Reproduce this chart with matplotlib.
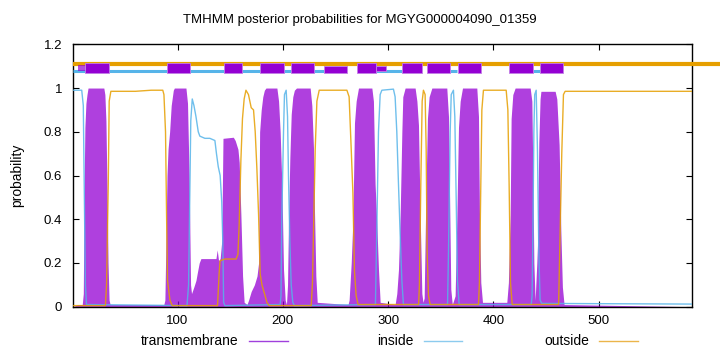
import matplotlib
matplotlib.use("Agg")
import matplotlib.pyplot as plt
from matplotlib.patches import Rectangle
from matplotlib.lines import Line2D

plt.rcParams['font.family'] = ['Liberation Sans', 'DejaVu Sans']

title = "TMHMM posterior probabilities for MGYG000004090_01359"
seq_len = 589

# transmembrane posterior probability (position, value)
tm_pos = [1, 5, 9.5, 10.5, 11.3, 12, 13, 14, 15, 30, 31, 32, 33, 34, 35, 36,
          60, 80, 87, 88, 89, 90, 91, 92.5, 94, 96, 97, 108, 109.5, 111, 112.4,
          113.3, 115.5, 117.5, 119, 120.6, 122.2, 136.5, 137.7, 139, 140.5, 142, 143.2,
          153, 154.8, 157.4, 158.6, 160.2, 161.8, 163.3, 166, 167.5, 170, 173, 175.5,
          177, 178, 179.5, 181, 182.5, 184, 194.4, 196, 197.5, 199.1, 200.7, 202.3,
          203.5, 204.5, 205.4, 206.7, 208, 209.5, 211, 213, 226, 227.6, 229.2, 230.1,
          231.4, 232.7, 262, 263, 265, 266.6, 268.1, 269.7, 271.9, 284.6, 286.1, 287.7,
          289.3, 290.9, 292.5, 306.7, 308.3, 309.9, 311.5, 313.1, 314, 316.2, 325.7,
          327.4, 328.9, 330.5, 332.1, 333.2, 334.3, 335.9, 337.4, 339, 341.6, 355.8,
          357.4, 358.3, 359.6, 361, 363.7, 365.3, 366.9, 368.5, 370.7, 384.3, 385.9,
          386.8, 388.1, 389.7, 412.8, 414.3, 416, 416.9, 418.5, 420.7, 435, 436.6,
          437.5, 438.5, 439.7, 441.3, 441.9, 443.2, 444.4, 445.2, 458.7, 460.3, 462.5,
          464.1, 465.6, 467.2, 589]
tm_val = [0.0, 0.01, 0.01, 0.06, 0.55, 0.82, 0.93, 0.97, 1.0, 1.0, 0.97, 0.85, 0.55, 0.2, 0.03, 0.01,
          0.01, 0.01, 0.01, 0.03, 0.3, 0.6, 0.72, 0.8, 0.92, 0.99, 1.0, 1.0, 0.93, 0.6, 0.1,
          0.06, 0.09, 0.12, 0.16, 0.2, 0.22, 0.22, 0.26, 0.21, 0.22, 0.3, 0.77,
          0.775, 0.76, 0.72, 0.66, 0.42, 0.14, 0.02, 0.01, 0.03, 0.07, 0.1, 0.14,
          0.2, 0.8, 0.9, 0.96, 0.99, 1.0, 1.0, 0.94, 0.8, 0.56, 0.17, 0.03,
          0.01, 0.1, 0.38, 0.68, 0.88, 0.96, 0.99, 1.0, 1.0, 0.92, 0.72, 0.44,
          0.14, 0.02, 0.01, 0.03, 0.2, 0.4, 0.84, 0.94, 1.0, 1.0, 0.94, 0.56,
          0.38, 0.17, 0.02, 0.01, 0.06, 0.17, 0.42, 0.8, 0.96, 1.0, 1.0,
          0.94, 0.83, 0.42, 0.06, 0.02, 0.04, 0.5, 0.86, 0.96, 1.0, 1.0,
          0.87, 0.56, 0.08, 0.01, 0.05, 0.4, 0.82, 0.94, 1.0, 1.0, 0.87,
          0.44, 0.11, 0.02, 0.02, 0.11, 0.42, 0.86, 0.97, 1.0, 1.0, 0.94,
          0.62, 0.2, 0.03, 0.2, 0.28, 0.75, 0.95, 0.985, 0.985, 0.95, 0.74,
          0.35, 0.09, 0.01, 0.0]

# inside posterior probability
in_pos = [1, 9, 10.5, 11.5, 12.5, 13.5, 109, 110.5, 111.5, 112.6, 114, 115.6, 117.5,
          119.7, 121.2, 126, 130.7, 135.5, 137, 138.7, 140.5, 142, 143, 143.8, 145,
          197.5, 198.3, 199.1, 200.7, 201.6, 203.2, 204.5, 205.4, 206.7, 208, 209.5, 211,
          288, 289.3, 290.9, 292.5, 294.1, 305.1, 306.7, 308.3, 309.9, 311.5, 313.1, 314.6,
          356.5, 357.4, 359, 360, 362.1, 363.4, 364.7, 365.9, 367.5,
          436, 436.8, 437.6, 438.5, 439.3, 440.7, 441.9, 443.2, 444.4, 446, 589]
in_val = [0.99, 0.99, 0.92, 0.5, 0.1, 0.01, 0.005, 0.1, 0.45, 0.85, 0.95, 0.92, 0.87,
          0.8, 0.78, 0.77, 0.77, 0.76, 0.7, 0.64, 0.6, 0.48, 0.3, 0.02, 0.005,
          0.01, 0.05, 0.42, 0.8, 0.97, 0.99, 0.87, 0.6, 0.3, 0.1, 0.02, 0.005,
          0.01, 0.35, 0.8, 0.97, 0.99, 0.995, 0.96, 0.8, 0.56, 0.33, 0.12, 0.01,
          0.01, 0.25, 0.8, 0.97, 0.99, 0.87, 0.5, 0.12, 0.01,
          0.01, 0.05, 0.35, 0.8, 0.97, 0.99, 0.72, 0.25, 0.03, 0.015, 0.012]

# outside posterior probability
out_pos = [1, 31.5, 32.6, 34.2, 35.1, 36.7, 60, 75, 86, 87.1, 88.6, 89.6, 90.5, 92.8, 95,
           138, 139.5, 140.4, 145, 155.7, 157.4, 158.6, 160.2, 161.7, 163.3, 165, 167.4,
           170, 172.2, 173.8, 175.4, 177, 178.5, 180.2, 182.6, 184.9, 187,
           227, 228.2, 229.5, 230.8, 232.4, 234.6, 260.9, 263, 265, 266.6, 268.1, 269.7, 271.5,
           329, 329.8, 331.1, 332.4, 333.6, 335.2, 336.2, 337.1, 338.4, 340,
           385.9, 386.8, 388.1, 389.1, 390.6, 412.2, 413.8, 415, 416.3, 417.9,
           462, 463.4, 465, 466.6, 468.2, 589]
out_val = [0.005, 0.005, 0.1, 0.56, 0.94, 0.985, 0.985, 0.99, 0.99, 0.97, 0.8, 0.42, 0.12, 0.03, 0.005,
           0.005, 0.15, 0.21, 0.218, 0.218, 0.24, 0.38, 0.67, 0.86, 0.95, 0.99, 0.97,
           0.91, 0.9, 0.8, 0.63, 0.42, 0.15, 0.1, 0.06, 0.02, 0.005,
           0.005, 0.11, 0.42, 0.72, 0.94, 0.99, 0.99, 0.96, 0.72, 0.52, 0.16, 0.05, 0.01,
           0.01, 0.1, 0.56, 0.94, 0.99, 0.97, 0.72, 0.25, 0.05, 0.01,
           0.01, 0.11, 0.56, 0.9, 0.99, 0.99, 0.9, 0.56, 0.11, 0.01,
           0.01, 0.33, 0.7, 0.97, 0.985, 0.985]

# predicted topology bars at the top
tm_box_start = [12.3, 90, 143.7, 178.5, 208, 238.7, 270.4, 288.7, 313, 336.8, 366, 415.3, 444.4]
tm_box_end = [34.5, 112, 161.2, 200.7, 230, 260.9, 288.7, 298.2, 332, 359, 388, 438, 466.6]
tm_box_low = [1.067, 1.067, 1.067, 1.067, 1.067, 1.067, 1.067, 1.078, 1.067, 1.067, 1.067, 1.067, 1.067]
tm_box_high = [1.116, 1.116, 1.116, 1.116, 1.116, 1.101, 1.116, 1.101, 1.116, 1.116, 1.116, 1.116, 1.116]
inside_bar_start = [1, 288.7, 359, 438]
inside_bar_end = [238.7, 313, 365.3, 444.4]
outside_bar_start = 1
outside_bar_end = 616

PURPLE = '#9400d3'
BLUE = '#56b4e9'
ORANGE = '#e69f00'

fig = plt.figure(figsize=(7.2, 3.52), dpi=100)
ax = fig.add_axes([73.3 / 720, 1 - 306.7 / 352, (692.3 - 73.3) / 720, (306.7 - 44.3) / 352])

ax.fill_between(tm_pos, 0, tm_val, color=PURPLE, alpha=0.75, linewidth=0, zorder=2)
ax.plot(in_pos, in_val, color=BLUE, lw=1.0, alpha=0.85, zorder=3)
ax.plot(out_pos, out_val, color=ORANGE, lw=1.0, alpha=0.85, zorder=3)

# top bars
ax.plot([outside_bar_start, outside_bar_end], [1.11, 1.11], color=ORANGE, lw=3.0,
        solid_capstyle='butt', clip_on=False, zorder=4)
for s, e in zip(inside_bar_start, inside_bar_end):
    ax.plot([s, e], [1.076, 1.076], color=BLUE, lw=2.2, solid_capstyle='butt', zorder=4)
ax.add_patch(Rectangle((5, 1.078), 7.3, 0.027, facecolor=PURPLE, alpha=0.7, lw=0, zorder=5))
for s, e, lo, hi in zip(tm_box_start, tm_box_end, tm_box_low, tm_box_high):
    ax.add_patch(Rectangle((s, lo), e - s, hi - lo, facecolor=PURPLE,
                           edgecolor='#c27ee6', lw=0.6, zorder=5))

ax.set_xlim(1, seq_len)
ax.set_ylim(0, 1.2)
ax.set_xticks([100, 200, 300, 400, 500])
ax.set_xticklabels(['100', '200', '300', '400', '500'])
ax.set_yticks([0, 0.2, 0.4, 0.6, 0.8, 1.0, 1.2])
ax.set_yticklabels(['0', '0.2', '0.4', '0.6', '0.8', '1', '1.2'])
ax.tick_params(direction='in', top=True, right=True, length=4, width=0.8,
               labelsize=9.5, colors='black')
ax.tick_params(axis='y', pad=8)
ax.tick_params(axis='x', pad=6)
for sp in ax.spines.values():
    sp.set_linewidth(1.0)

fig.text(0.5, 1 - 20 / 352, title, ha='center', va='center', fontsize=9.5)
fig.text(17 / 720, 1 - 175 / 352, 'probability', rotation=90, ha='center', va='center', fontsize=10)

# legend
leg_y = 1 - 341 / 352
legend_items = [('transmembrane', 238, 249, 288, '#a040dc'),
                ('inside', 414, 424, 462, '#8ccbee'),
                ('outside', 589, 599, 638, '#ebb54a')]
for label, tx, x0, x1, c in legend_items:
    fig.text(tx / 720, leg_y, label, ha='right', va='center', fontsize=10)
    fig.add_artist(Line2D([x0 / 720, x1 / 720], [leg_y, leg_y], color=c, lw=1.0,
                          transform=fig.transFigure))

fig.savefig('out.png', dpi=100)
